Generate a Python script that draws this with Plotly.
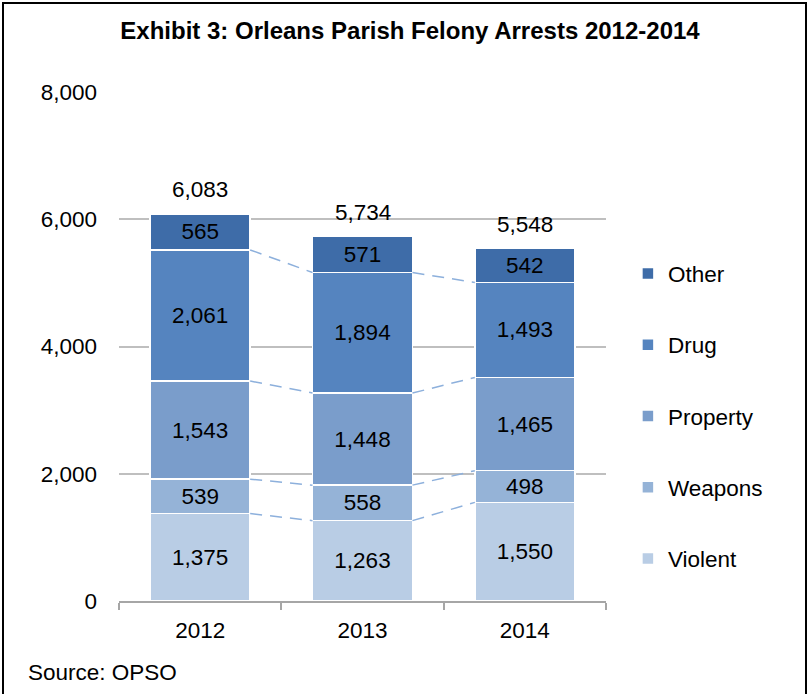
import plotly.graph_objects as go

years = ["2012", "2013", "2014"]
series_names = ["Violent", "Weapons", "Property", "Drug", "Other"]
violent = [1375, 1263, 1550]
weapons = [539, 558, 498]
property_ = [1543, 1448, 1465]
drug = [2061, 1894, 1493]
other = [565, 571, 542]
totals = [6083, 5734, 5548]
y_ticks = [0, 2000, 4000, 6000, 8000]

colors = ["#B9CDE5", "#95B3D7", "#7A9DCB", "#5584BF", "#3E6CA8"]
series_values = [violent, weapons, property_, drug, other]

FONT = "Liberation Sans, Arial"
FS = 22.5

xpos = list(range(len(years)))
bar_w = 0.616

fig = go.Figure()
n = len(series_names)
for k, (name, vals, col) in enumerate(zip(series_names, series_values, colors)):
    fig.add_trace(go.Bar(
        x=xpos, y=vals, name=name, width=bar_w,
        marker=dict(color=col, line=dict(color="white", width=1.5)),
        text=[f"{v:,}" for v in vals], textposition="inside",
        insidetextanchor="middle", constraintext="none",
        textfont=dict(family=FONT, size=FS, color="black"),
        legendgroup=name, legendrank=n - k,
    ))

# series connector lines (dashed), for all but top series
cum = [0, 0, 0]
for vals in series_values[:-1]:
    cum = [c + v for c, v in zip(cum, vals)]
    lx, ly = [], []
    for i in range(len(years) - 1):
        lx += [xpos[i] + bar_w / 2, xpos[i + 1] - bar_w / 2, None]
        ly += [cum[i], cum[i + 1], None]
    fig.add_trace(go.Scatter(x=lx, y=ly, mode="lines", showlegend=False,
                             line=dict(color="#8DB0DC", width=1.5, dash="12px,8px"),
                             hoverinfo="skip"))

annotations = [dict(x=xp, y=t, xref="x", yref="y", text=f"{t:,}", showarrow=False,
                    yanchor="middle", yshift=24, font=dict(family=FONT, size=FS, color="black"))
               for xp, t in zip(xpos, totals)]
annotations.append(dict(text="Source: OPSO", xref="paper", yref="paper",
                        x=(26 - 119) / 487, y=(601 - 672) / 509, xanchor="left",
                        yanchor="middle", showarrow=False, font=dict(family=FONT, size=FS)))

fig.update_layout(
    barmode="stack",
    width=809, height=694,
    margin=dict(l=119, r=203, t=92, b=93),
    paper_bgcolor="white", plot_bgcolor="white",
    font=dict(family=FONT, size=FS, color="black"),
    title=dict(text="<b>Exhibit 3: Orleans Parish Felony Arrests 2012-2014</b>",
               x=410 / 809, xanchor="center", y=1 - 31 / 694, yanchor="middle",
               font=dict(size=24, color="black")),
    legend=dict(x=1.045, xanchor="left", y=0.685, yanchor="top",
                traceorder="grouped", tracegroupgap=39,
                font=dict(size=FS), itemwidth=30),
    xaxis=dict(range=[-0.5, 2.5], tickvals=xpos, ticktext=years, ticks="",
               showgrid=False, zeroline=False, showline=True, linecolor="#A6A6A6",
               linewidth=1.5, tickfont=dict(size=FS), ticklabelstandoff=8,
               minor=dict(tickvals=[-0.5, 0.5, 1.5, 2.5], ticks="outside",
                          ticklen=7, tickcolor="#A6A6A6", tickwidth=1.5, showgrid=False)),
    yaxis=dict(range=[0, 8000], tickvals=y_ticks, tickformat=",", showgrid=True,
               gridcolor="#BFBFBF", gridwidth=1.5, zeroline=False, showline=False,
               ticks="", ticklabelstandoff=21, tickfont=dict(size=FS)),
    shapes=[dict(type="rect", xref="paper", yref="paper",
                 x0=(3 - 119) / 487, x1=(806 - 119) / 487,
                 y0=(601 - 700) / 509, y1=(601 - 3) / 509,
                 line=dict(color="black", width=2), fillcolor="rgba(0,0,0,0)")],
    annotations=annotations,
)

fig.write_html("out.html", config={"displayModeBar": False},
               post_script="document.body.style.margin='0px';")
